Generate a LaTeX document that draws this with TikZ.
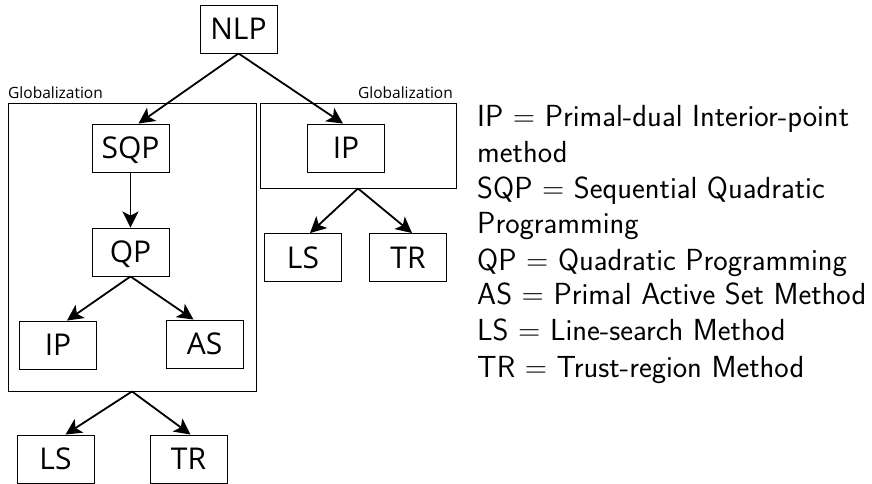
\documentclass[tikz,border=0pt]{standalone}
\usepackage{fontspec}
\newfontfamily\boxfont{Open Sans}
\usetikzlibrary{arrows.meta}
\begin{document}
\begin{tikzpicture}[x=1pt,y=-1pt,
    box/.style={draw,line width=0.9pt,minimum width=77pt,minimum height=48pt,inner sep=0pt,
        text height=21.5pt,text depth=0pt,font=\boxfont\fontsize{30}{30}\selectfont},
    globbox/.style={draw,line width=0.9pt,inner sep=0pt},
    globlabel/.style={inner sep=0pt,font=\boxfont\fontsize{15.5}{16}\selectfont},
    legend/.style={inner sep=0pt,anchor=base west,font=\sffamily\fontsize{30.5}{36}\selectfont},
    arr/.style={line width=1.8pt,-{Stealth[length=16pt,width=16pt,inset=4pt]}}]
\useasboundingbox (0,0) rectangle (872,484);
% globalization boxes
\node[globbox,minimum width=248pt,minimum height=288pt] (globl) at (132,247) {};
\node[globbox,minimum width=196pt,minimum height=85pt] (globr) at (358,145.5) {};
\node[globlabel,anchor=base west] (globltext) at (8,99) {Globalization};
\node[globlabel,anchor=base east] (globrtext) at (453,99) {Globalization};
% boxes
\node[box] (nlp) at (238.5,29) {NLP};
\node[box] (sqp) at (130.5,148) {SQP};
\node[box] (qp) at (130.5,252) {QP};
\node[box] (ipl) at (58,345) {IP};
\node[box] (as) at (204.5,344) {AS};
\node[box] (lsl) at (55.5,459) {LS};
\node[box] (trl) at (188.5,459) {TR};
\node[box] (ipr) at (346,148) {IP};
\node[box] (lsr) at (303,257.5) {LS};
\node[box] (trr) at (408,257.5) {TR};
% arrows
\draw[arr] (nlp.south) -- ([xshift=8pt]sqp.north);
\draw[arr] (nlp.south) -- ([xshift=-3pt]ipr.north);
\draw[arr] (sqp) -- (qp);
\draw[arr] (qp.south) -- ([xshift=9pt]ipl.north);
\draw[arr] (qp.south) -- ([xshift=-11pt]as.north);
\draw[arr] (globl.south) -- ([xshift=10pt]lsl.north);
\draw[arr] (globl.south) -- ([xshift=2pt]trl.north);
\draw[arr] (globr.south) -- ([xshift=7pt]lsr.north);
\draw[arr] (globr.south) -- ([xshift=4pt]trr.north);
% legend
\foreach \y/\t in {126/{IP = Primal-dual Interior-point},162/{method},
    198/{SQP = Sequential Quadratic},233/{Programming},
    270/{QP = Quadratic Programming},304/{AS = Primal Active Set Method},
    340/{LS = Line-search Method},377/{TR = Trust-region Method}}{
    \node[legend] (leg\y) at (477,\y) {\t};
}
\end{tikzpicture}
\end{document}
